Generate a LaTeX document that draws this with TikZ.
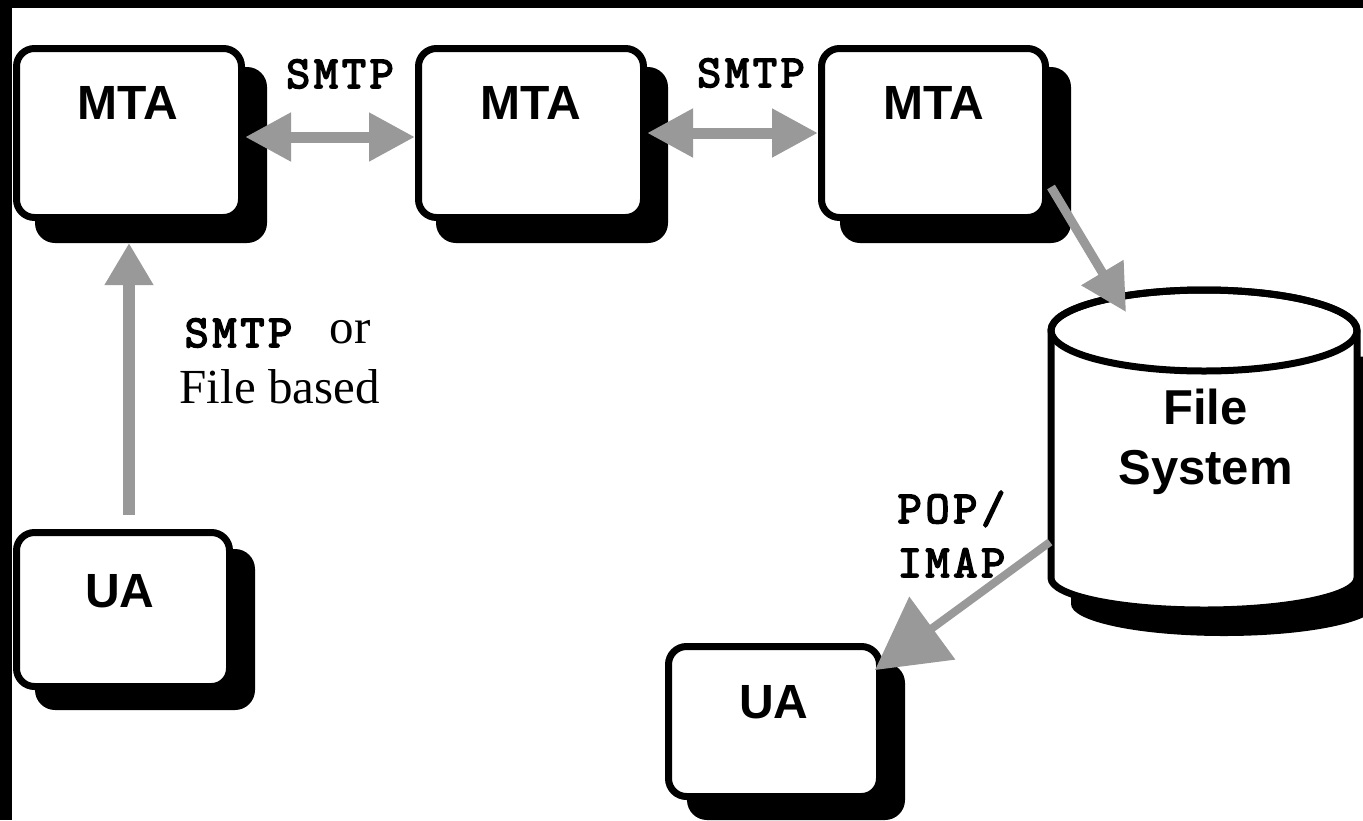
\documentclass[tikz,border=0pt]{standalone}
\usepackage{fontspec}
\setmainfont{Liberation Serif}
\setsansfont{Liberation Sans}
\newfontfamily\protofont{lmmono10-regular.otf}[FakeBold=3.4, LetterSpace=8]
\usetikzlibrary{arrows.meta,calc,backgrounds}
\definecolor{arrowgray}{RGB}{153,153,153}
\tikzset{
  box/.style={draw=black, fill=white, line width=7pt, rounded corners=18pt, inner sep=0pt},
  boxshadow/.style={fill=black, rounded corners=20pt},
  boxlabel/.style={font=\sffamily\bfseries\fontsize{48}{48}\selectfont, inner sep=0pt, anchor=base},
  fslabel/.style={font=\sffamily\bfseries\fontsize{49}{49}\selectfont, inner sep=0pt, anchor=base},
  protolabel/.style={font=\protofont\fontsize{46}{46}\selectfont, inner sep=0pt, anchor=base},
  serlabel/.style={font=\rmfamily\fontsize{49}{49}\selectfont, inner sep=0pt, anchor=base},
  garrow/.style={draw=arrowgray, fill=arrowgray},
  cyl/.style={draw=black, fill=white, line width=7pt, line join=round}
}
\begin{document}
\begin{tikzpicture}[x=1pt,y=-1pt]
\useasboundingbox (0,0) rectangle (1363,820);
\begin{scope}[on background layer]
  \fill[white] (0,0) rectangle (1363,820);
  \fill[black] (0,0) rectangle (1363,8);
  \fill[black] (0,0) rectangle (12,820);
\end{scope}

% boxes
\node[box, minimum width=225pt, minimum height=169pt] (mta1) at (129,133) {};
\node[box, minimum width=225pt, minimum height=169pt] (mta2) at (531,133) {};
\node[box, minimum width=224pt, minimum height=169pt] (mta3) at (933.5,133) {};
\node[box, minimum width=213pt, minimum height=154pt] (ua1) at (123,609.5) {};
\node[box, minimum width=211pt, minimum height=150pt] (ua2) at (774,721.5) {};

\begin{scope}[on background layer]
  \foreach \b/\dx/\dy in {mta1/22/22, mta2/21/22, mta3/22/22, ua1/22/20, ua2/22/20}{
    \fill[boxshadow] ($(\b.north west)+(\dx,\dy)$) rectangle ($(\b.south east)+(\dx,\dy)$);
  }
\end{scope}

% box labels
\node[boxlabel] (mta1t) at ($(mta1.center)+(-1,-14)$) {MTA};
\node[boxlabel] (mta2t) at ($(mta2.center)+(0,-14)$) {MTA};
\node[boxlabel] (mta3t) at ($(mta3.center)+(0,-14)$) {MTA};
\node[boxlabel] (ua1t) at ($(ua1.center)+(-3,-2.5)$) {UA};
\node[boxlabel] (ua2t) at ($(ua2.center)+(0,-3.5)$) {UA};

% file system cylinder
\coordinate (fsc) at (1204,330.5);
\begin{scope}[on background layer]
  \fill[black] ($(fsc)+(-133,26)$) -- ($(fsc)+(-133,273.5)$)
    arc[start angle=180, end angle=360, x radius=153pt, y radius=32pt]
    -- ($(fsc)+(173,26)$) -- cycle;
\end{scope}
\path[cyl] ($(fsc)+(-153,0)$) -- ($(fsc)+(-153,247.5)$)
  arc[start angle=180, end angle=360, x radius=153pt, y radius=32pt]
  -- ($(fsc)+(153,0)$)
  arc[start angle=0, end angle=180, x radius=153pt, y radius=40.5pt] -- cycle;
\draw[cyl, fill=none] (fsc) ellipse[x radius=153pt, y radius=40.5pt];
\node[fslabel] (fsline1) at (1205.5,424) {File};
\node[fslabel] (fsline2) at (1205.5,484) {System};
\coordinate (fsin) at (1126,312);
\coordinate (fsout) at (1050,542);

% protocol labels
\node[protolabel] (smtp1) at (340,88) {SMTP};
\node[protolabel] (smtp2) at (751,87) {SMTP};
\node[protolabel] (smtp3) at (238.5,347) {SMTP};
\node[serlabel] (or3) at (350,343) {or};
\node[serlabel, anchor=base west] (file3) at (179.5,403) {File based};
\node[protolabel] (pop) at (951.5,523) {POP/};
\node[protolabel] (imap) at (951.5,577) {IMAP};

% connectors
\draw[garrow, line width=11pt, {Triangle[length=46pt,width=46pt]}-{Triangle[length=46pt,width=46pt]}]
  ($(mta1.east)+(0,4)$) -- ($(mta2.west)+(0,4)$);
\draw[garrow, line width=11pt, {Triangle[length=46pt,width=46pt]}-{Triangle[length=46pt,width=46pt]}]
  (mta2.east) -- (mta3.west);
\draw[garrow, line width=12pt, -{Triangle[length=42pt,width=46pt]}]
  ($(mta1.south |- ua1.north)+(0,-14)$) -- ($(mta1.south)+(0,22)$);
\draw[garrow, line width=9pt, -{Triangle[length=46pt,width=47pt]}]
  ($(mta3.east)+(2,54)$) -- (fsin);
\draw[garrow, line width=8pt, -{Triangle[length=71pt,width=76pt]}]
  (fsout) -- ($(ua2.north east)+(-8,27)$);
\end{tikzpicture}
\end{document}
